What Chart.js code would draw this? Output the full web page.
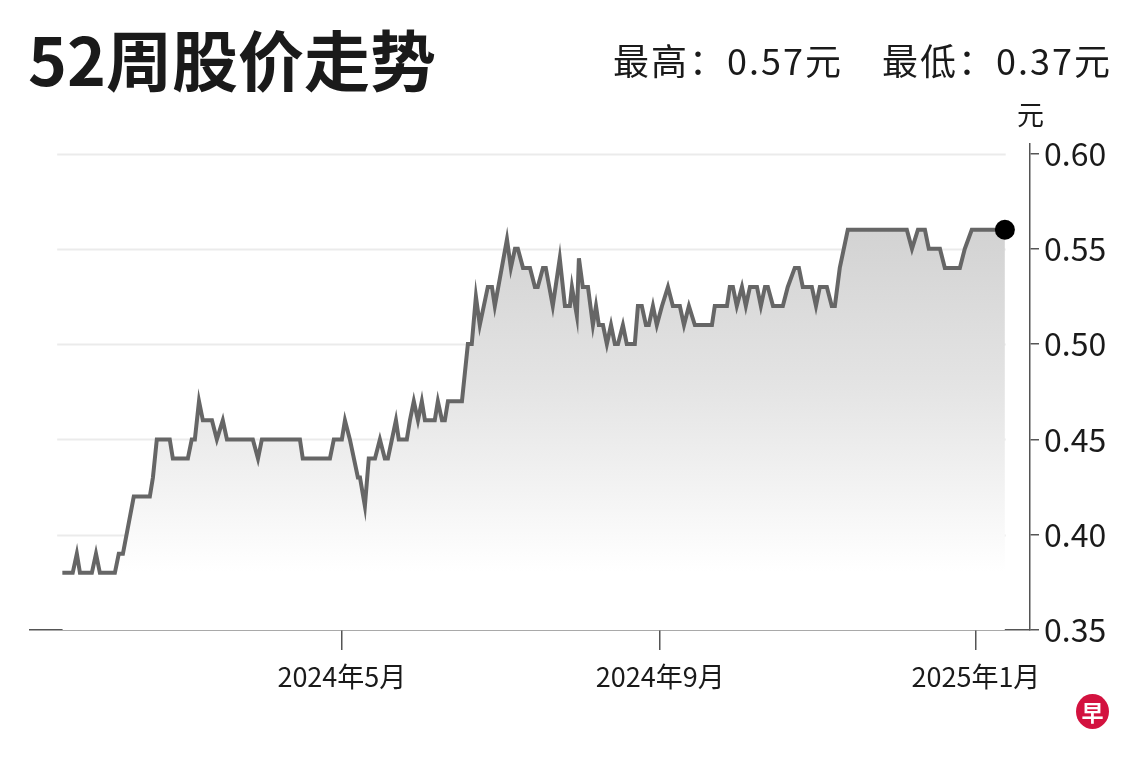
<!DOCTYPE html>
<html>
<head>
<meta charset="utf-8">
<script src="https://cdn.jsdelivr.net/npm/chart.js@4"></script>
<style>
  body{margin:0;width:1140px;height:760px;background:#fff;overflow:hidden;font-family:"Noto Sans CJK SC","Noto Sans",sans-serif;position:relative}
  #wrap{position:absolute;left:0;top:0;width:1140px;height:760px}
  .t{position:absolute;color:#1a1a1a;white-space:nowrap;line-height:1}
  #logo{position:absolute;left:1076px;top:694px;width:33px;height:35px;border-radius:50%;background:#d3123f;color:#fff;font-size:22px;font-weight:700;text-align:center;line-height:35px}
</style>
</head>
<body>
<div id="wrap"><canvas id="c"></canvas></div>
<div class="t" style="left:28px;top:24px;font-size:66px;font-weight:700">52周股价走势</div>
<div class="t" style="left:613px;top:41px;font-size:36px;letter-spacing:2px">最高：0.57元</div>
<div class="t" style="left:882px;top:41px;font-size:36px;letter-spacing:2px">最低：0.37元</div>
<div class="t" style="left:1017px;top:100px;font-size:27px">元</div>
<div id="logo">早</div>
<script>
// Days since 12 Jan 2024 (calendar days) and closing prices (元)
const days = [2,6,7.6,8.8,13.4,15,16.5,22.3,23.8,25.4,29.6,35.8,37,38.5,43.5,44.7,50.5,52,53.2,54.8,56.3,59.8,61.7,64,65.6,75.6,77.6,79.1,93.8,94.9,105.4,106.9,110,111.2,113.1,116.2,117,118.9,120.4,122.8,124.7,126.6,127.8,130.9,132,135.1,136.3,137.8,139.4,140.9,142.1,145.9,147.1,148.7,149.8,151,156.4,158.7,160.2,161.8,163.3,166.4,168,169.1,173.8,175.3,176.9,178,180,182.7,184.6,185.7,187.7,188.8,191.5,194.2,196.2,198.1,198.9,200.8,201.6,203.1,205.1,207,208.2,209.3,210.9,212.4,214,215.5,216.7,218.6,220.1,223.2,224.4,225.9,227.5,228.6,230.2,231.7,233.7,236,237.9,240.6,242.2,244.1,246.4,253,254.1,258.8,259.9,261.1,262.6,264.6,266.1,267.7,270.4,271.9,273.5,274.6,276.6,280.4,282.3,285,286.6,288.1,291.6,293.2,294.7,297.4,299.3,300.5,302.4,305.5,328.3,330.3,332.6,335.3,336.8,341.1,343,348.8,350.7,353.4,366.2];
const prices = [0.38,0.38,0.39,0.38,0.38,0.39,0.38,0.38,0.39,0.39,0.42,0.42,0.43,0.45,0.45,0.44,0.44,0.45,0.45,0.47,0.46,0.46,0.45,0.46,0.45,0.45,0.44,0.45,0.45,0.44,0.44,0.45,0.45,0.46,0.45,0.43,0.43,0.415,0.44,0.44,0.45,0.44,0.44,0.46,0.45,0.45,0.46,0.47,0.46,0.47,0.46,0.46,0.47,0.46,0.46,0.47,0.47,0.50,0.50,0.525,0.51,0.53,0.53,0.52,0.555,0.54,0.55,0.55,0.54,0.54,0.53,0.53,0.54,0.54,0.52,0.545,0.52,0.52,0.53,0.515,0.545,0.53,0.53,0.51,0.52,0.51,0.51,0.50,0.51,0.50,0.50,0.51,0.50,0.50,0.52,0.52,0.51,0.51,0.52,0.51,0.52,0.53,0.52,0.52,0.51,0.52,0.51,0.51,0.52,0.52,0.53,0.53,0.52,0.53,0.52,0.53,0.53,0.52,0.53,0.53,0.52,0.52,0.53,0.54,0.54,0.53,0.53,0.52,0.53,0.53,0.52,0.52,0.54,0.56,0.56,0.55,0.56,0.56,0.55,0.55,0.54,0.54,0.55,0.56,0.56];
const xTickDays = [110, 233, 355];
const xTickLabels = ['2024年5月', '2024年9月', '2025年1月'];
const yTicks = [0.35, 0.40, 0.45, 0.50, 0.55, 0.60];

const points = days.map((d, i) => ({x: d, y: prices[i]}));

const gridPlugin = {
  id: 'grid',
  beforeDatasetsDraw(chart) {
    const {ctx, scales: {x, y}} = chart;
    ctx.save();
    ctx.strokeStyle = '#ebebeb';
    ctx.lineWidth = 2;
    const x0 = x.getPixelForValue(0), x1 = x.getPixelForValue(366.5);
    yTicks.forEach(v => {
      if (v === yTicks[0]) return;
      const py = Math.round(y.getPixelForValue(v)) + 0.5;
      ctx.beginPath(); ctx.moveTo(x0, py); ctx.lineTo(x1, py); ctx.stroke();
    });
    ctx.restore();
  }
};

new Chart(document.getElementById('c'), {
  type: 'line',
  data: {
    datasets: [{
      data: points,
      borderColor: '#666666',
      borderWidth: 4,
      tension: 0,
      fill: 'start',
      backgroundColor: (ctx) => {
        const ca = ctx.chart.chartArea;
        if (!ca) return 'rgba(220,220,220,1)';
        const g = ctx.chart.ctx.createLinearGradient(0, ca.top, 0, ca.bottom);
        g.addColorStop(0, '#c9c9c9');
        g.addColorStop(0.5, '#e4e4e4');
        g.addColorStop(0.88, '#ffffff');
        g.addColorStop(1, '#ffffff');
        return g;
      },
      pointRadius: (c) => c.dataIndex === days.length - 1 ? 10 : 0,
      pointBackgroundColor: '#000',
      pointBorderWidth: 0,
      pointHoverRadius: 0,
      clip: false
    }]
  },
  options: {
    responsive: true,
    maintainAspectRatio: false,
    animation: false,
    events: [],
    layout: {padding: {left: 30, top: 144, right: 0, bottom: 0}},
    plugins: {legend: {display: false}, tooltip: {enabled: false}, title: {display: false}},
    scales: {
      x: {
        type: 'linear',
        min: -10.5,
        max: 375.9,
        afterBuildTicks: (s) => { s.ticks = xTickDays.map(v => ({value: v})); },
        afterFit: (s) => { s.height = 130; },
        ticks: {
          autoSkip: false, maxRotation: 0, padding: 11,
          color: '#1a1a1a',
          font: {family: '"Noto Sans CJK SC"', size: 27},
          callback: (v, i) => xTickLabels[i]
        },
        grid: {drawOnChartArea: false, drawTicks: true, tickLength: 20, color: '#555', lineWidth: 1.5},
        border: {display: true, color: '#555', width: 1.5}
      },
      y: {
        position: 'right',
        min: 0.35,
        max: 0.605,
        afterBuildTicks: (s) => { s.ticks = yTicks.map(v => ({value: v})); },
        afterFit: (s) => { s.width = 110; },
        ticks: {
          padding: 5,
          color: '#1a1a1a',
          font: {family: '"Noto Sans CJK SC"', size: 32},
          callback: (v) => Number(v).toFixed(2)
        },
        grid: {drawOnChartArea: false, drawTicks: true, tickLength: 9, color: '#555', lineWidth: 1.5},
        border: {display: true, color: '#555', width: 1.5}
      }
    }
  },
  plugins: [gridPlugin]
});
</script>
</body>
</html>
